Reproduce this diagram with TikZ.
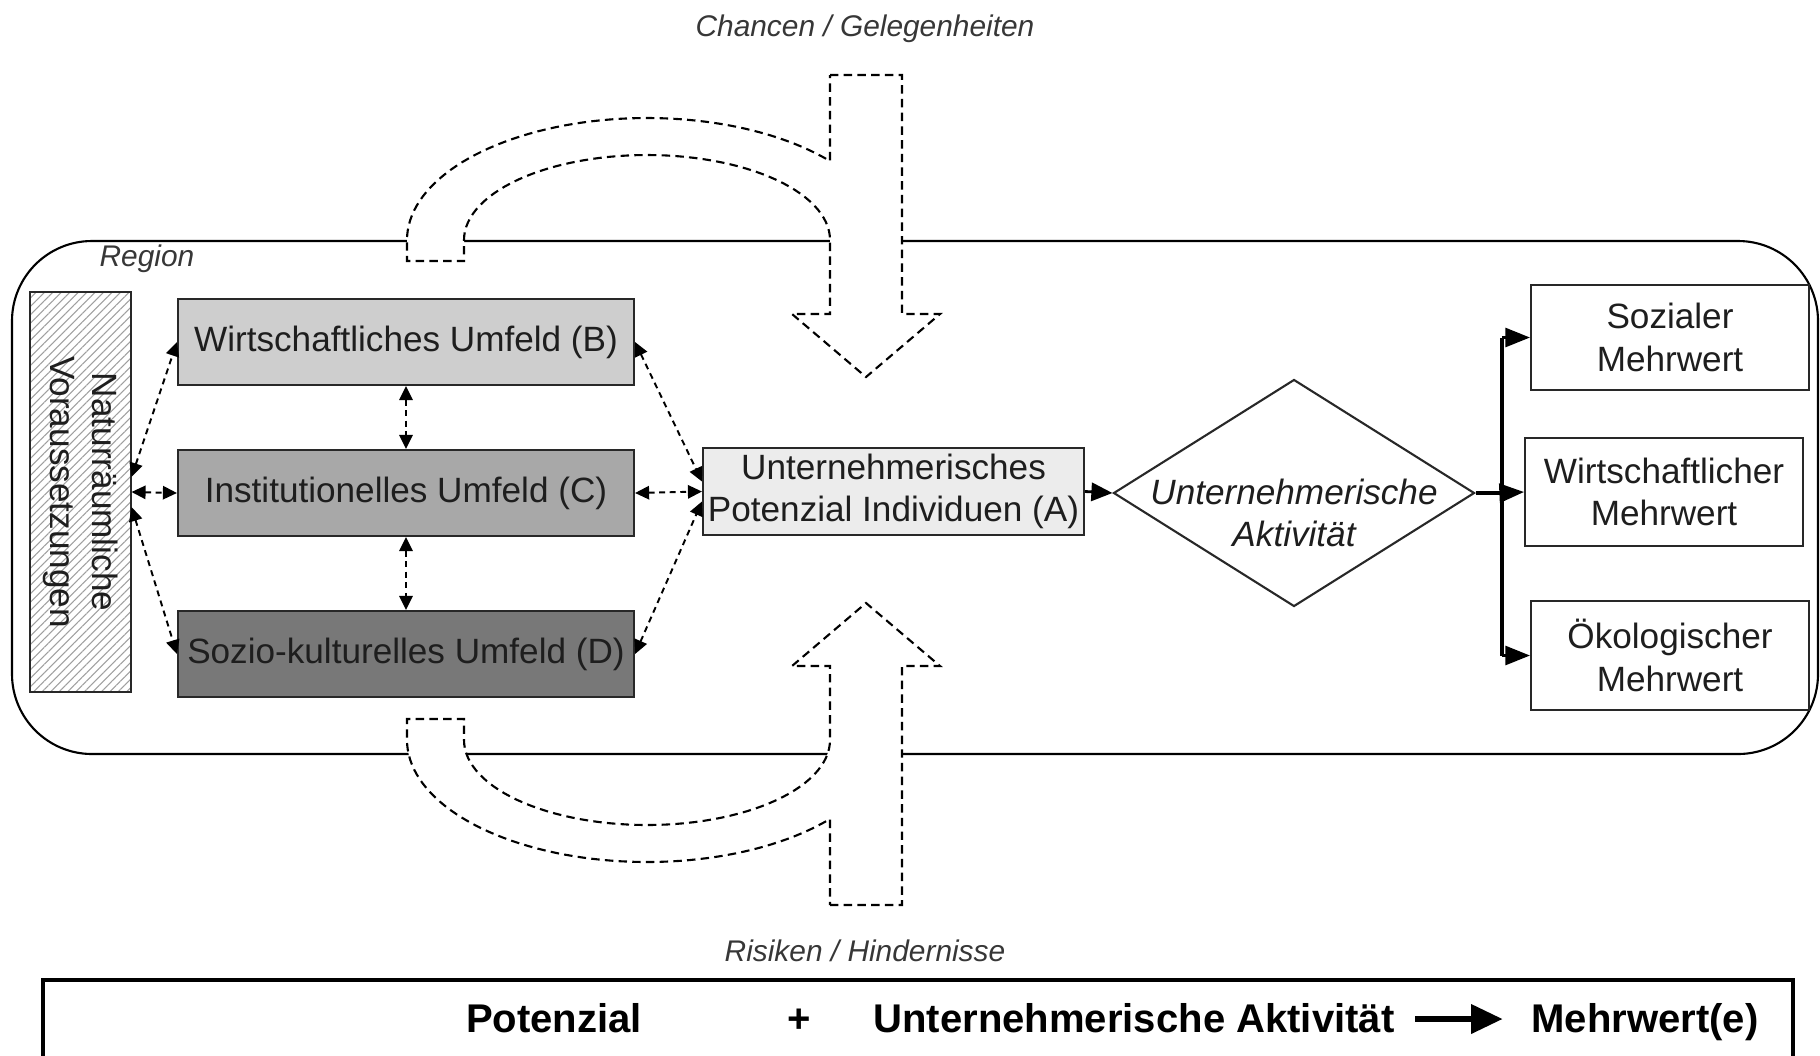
\documentclass[tikz,border=0pt]{standalone}
\usepackage{fontspec}
\setmainfont{Liberation Sans}
\usetikzlibrary{shapes.geometric,arrows.meta,patterns.meta}
\definecolor{txt}{RGB}{30,30,30}
\definecolor{lbl}{RGB}{55,55,55}
\definecolor{boxline}{RGB}{40,40,40}
\definecolor{fillA}{RGB}{236,236,236}
\definecolor{fillB}{RGB}{206,206,206}
\definecolor{fillC}{RGB}{168,168,168}
\definecolor{fillD}{RGB}{120,120,120}
\newcommand{\chancepath}{(830,75) -- (902,75) -- (902,314) -- (940,314) -- (866,377) -- (792,314) -- (830,314) -- (830,240)
 -- plot[domain=0:180,samples=61] ({647+183*cos(\x)},{240-85*sin(\x)})
 -- (464,261) -- (407,261) -- (407,240)
 -- plot[domain=180:40.3,samples=61] ({647+240*cos(\x)},{240-122*sin(\x)}) -- cycle}
\tikzset{
  every node/.style={font=\fontsize{10}{12}\selectfont, text=txt},
  envbox/.style={draw=boxline, line width=0.6pt, minimum width=45.6mm, minimum height=8.6mm, inner sep=0pt},
  outbox/.style={draw=boxline, fill=white, line width=0.6pt, minimum width=27.8mm, align=center, inner sep=0pt},
  dashlink/.style={dash pattern=on 1.7pt off 1.3pt, line width=0.55pt, black,
    arrows={Triangle[length=4pt,width=3.8pt]-Triangle[length=4pt,width=3.8pt]}},
  flow/.style={line width=0.8pt, black, arrows={-Triangle[length=6pt,width=5.2pt]}},
  busflow/.style={line width=0.8pt, black, arrows={-Triangle[length=7pt,width=5.4pt]}},
  busline/.style={line width=1.4pt, black},
  bigshape/.style={draw=black, fill=white, dash pattern=on 2.4pt off 1.5pt, line width=0.6pt},
  sidelabel/.style={font=\itshape\fontsize{8.5}{10}\selectfont, text=lbl},
  legendtext/.style={font=\bfseries\fontsize{11.4}{13}\selectfont, text=black, inner sep=0pt, anchor=base},
}
\begin{document}
\begin{tikzpicture}[x=0.1mm,y=-0.1mm]
\useasboundingbox (0,0) rectangle (1820,1055);
% region
\draw[line width=0.6pt, rounded corners=8mm] (12,241) rectangle (1818,754);
\node[sidelabel] (reg) at (147,259) {Region};
% big dashed arrows
\path[bigshape] \chancepath;
\begin{scope}[shift={(0,980)}, yscale=-1]
\path[bigshape] \chancepath;
\end{scope}
\node[sidelabel] (chancen) at (865,29) {Chancen / Gelegenheiten};
\node[sidelabel] (risiken) at (865,951) {Risiken / Hindernisse};
% nature box
\node[draw=boxline, line width=0.6pt, minimum width=10.1mm, minimum height=40mm, inner sep=0pt,
      pattern={Lines[angle=45,distance=1.7pt,line width=0.3pt]}, pattern color=gray!75] (nat) at (80.5,492) {};
\node[rotate=-90, align=center] (nattext) at (nat.center) {Naturräumliche\\Voraussetzungen};
% environment boxes
\node[envbox, fill=fillB] (B) at (406,342) {Wirtschaftliches Umfeld (B)};
\node[envbox, fill=fillC] (C) at (406,493) {Institutionelles Umfeld (C)};
\node[envbox, fill=fillD] (D) at (406,654) {Sozio-kulturelles Umfeld (D)};
\node[draw=boxline, fill=fillA, line width=0.6pt, minimum width=38.1mm, minimum height=8.7mm, inner sep=0pt, align=center]
  (A) at (893.5,491.5) {Unternehmerisches\\Potenzial Individuen (A)};
% diamond
\node[diamond, draw=boxline, line width=0.6pt, minimum width=36.1mm, minimum height=22.7mm, inner sep=0pt] (ua) at (1294,493) {};
\node[font=\itshape\fontsize{10}{12}\selectfont, align=center] (uatext) at (1294,513) {Unternehmerische\\Aktivität};
% outputs
\node[outbox, minimum height=10.5mm] (sm) at (1670,337.5) {Sozialer\\Mehrwert};
\node[outbox, minimum height=10.8mm] (wm) at (1664,492) {Wirtschaftlicher\\Mehrwert};
\node[outbox, minimum height=10.9mm] (om) at (1670,655.5) {Ökologischer\\Mehrwert};
% dashed links
\draw[dashlink] ([yshift=1.5mm]nat.east) -- (B.west);
\draw[dashlink] (nat.east) -- (C.west);
\draw[dashlink] ([yshift=-1.5mm]nat.east) -- (D.west);
\draw[dashlink] (B.south) -- (C.north);
\draw[dashlink] (C.south) -- (D.north);
\draw[dashlink] (B.east) -- ([yshift=1mm]A.west);
\draw[dashlink] (C.east) -- (A.west);
\draw[dashlink] (D.east) -- ([yshift=-1mm]A.west);
% flow
\coordinate (bus) at (1502,493);
\draw[flow] (A.east) -- (ua.west);
\draw[busline] (ua.east) -- (bus);
\draw[busline] (bus |- sm.west) -- (bus |- om.west);
\draw[busflow] (bus) -- (wm.west);
\draw[busflow] (bus |- sm.west) -- (sm.west);
\draw[busflow] (bus |- om.west) -- (om.west);
% legend
\draw[line width=1pt] (43,1075) -- (43,980) -- (1793,980) -- (1793,1075);
\node[legendtext] (lp) at (554,1032) {Potenzial};
\node[legendtext] (lplus) at (799,1032) {+};
\node[legendtext] (la) at (1134,1032) {Unternehmerische Aktivität};
\node[legendtext] (lm) at (1645,1032) {Mehrwert(e)};
\draw[line width=1.8pt, arrows={-Triangle[length=9pt,width=8pt]}] ([xshift=2mm,yshift=1.3mm]la.base east) -- ([xshift=-2.8mm,yshift=1.3mm]lm.base west);
\end{tikzpicture}
\end{document}
